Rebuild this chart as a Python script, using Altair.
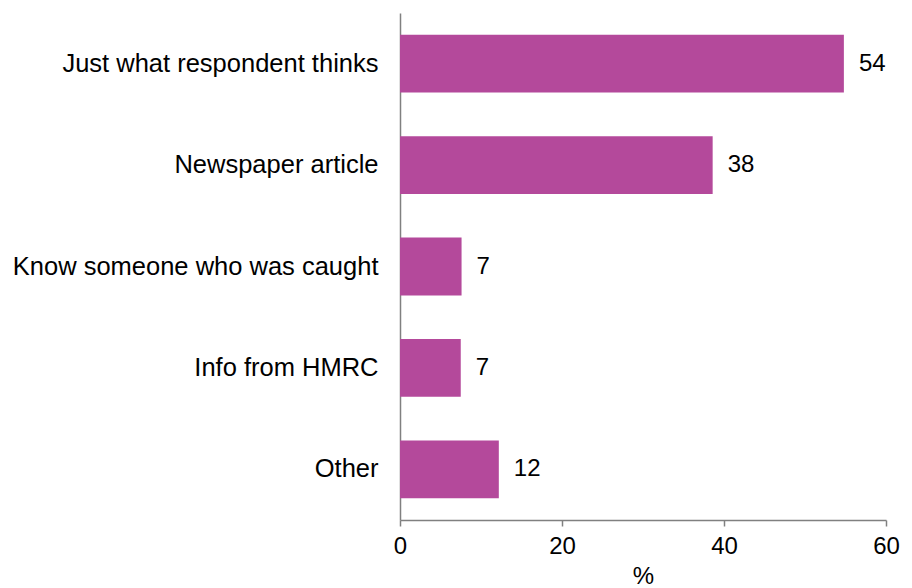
import altair as alt
import pandas as pd

categories = ["Just what respondent thinks", "Newspaper article", "Know someone who was caught", "Info from HMRC", "Other"]
values = [54.8, 38.6, 7.6, 7.5, 12.2]
labels = ["54", "38", "7", "7", "12"]
x_ticks = [0, 20, 40, 60]

df = pd.DataFrame({"category": categories, "value": values, "label": labels})

FONT = "Liberation Sans"
BAR = "#B4499B"

y_enc = alt.Y("category:N", sort=None, title=None,
              scale=alt.Scale(paddingInner=0.43, paddingOuter=0.215),
              axis=alt.Axis(labelFontSize=25.5, labelFont=FONT, labelColor="#000000",
                            ticks=False, labelPadding=22, domainColor="#808080",
                            domainWidth=1.5, labelLimit=400))

x_enc = alt.X("value:Q", title="%",
              scale=alt.Scale(domain=[0, 60], nice=False, zero=True),
              axis=alt.Axis(values=x_ticks, grid=False, labelFontSize=24, labelFont=FONT,
                            labelColor="#000000", tickSize=6, tickColor="#808080",
                            tickWidth=1.5, domainColor="#808080", domainWidth=1.5,
                            labelPadding=8, labelFlush=False, titleFontSize=24, titleFont=FONT,
                            titleFontWeight="normal", titleColor="#000000", titlePadding=6))

bars = alt.Chart(df).mark_bar(color=BAR).encode(x=x_enc, y=y_enc)
text = alt.Chart(df).mark_text(align="left", baseline="middle", dx=15, fontSize=24,
                               font=FONT, color="#000000").encode(
    x=alt.X("value:Q"), y=alt.Y("category:N", sort=None), text="label:N")

chart = (bars + text).properties(
    width=486, height=507,
    autosize=alt.AutoSizeParams(type="none"),
    padding={"left": 392, "top": 5, "right": 18, "bottom": 68},
).configure(background="white", view=alt.ViewConfig(stroke=None))

chart.save("out.html", embed_options={"renderer": "svg", "actions": False})
